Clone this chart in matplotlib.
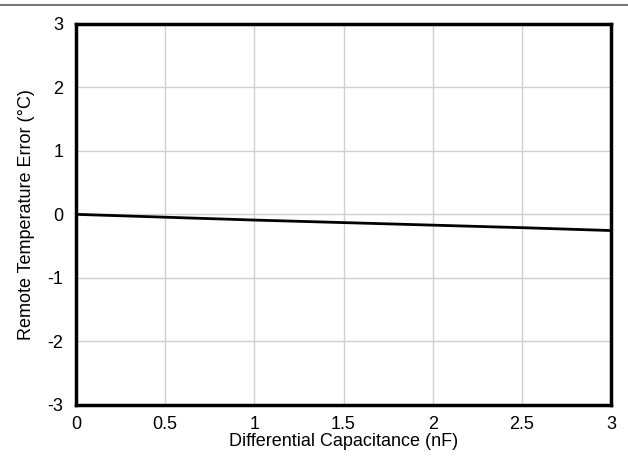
import matplotlib
matplotlib.use("Agg")
import matplotlib.pyplot as plt
from matplotlib.lines import Line2D

plt.rcParams['font.family'] = ['Liberation Sans', 'DejaVu Sans']

# data
cap_nf = [0, 0.5, 1.0, 1.5, 2.0, 2.5, 3.0]
temp_err = [0, -0.045, -0.09, -0.13, -0.17, -0.21, -0.255]

xticks = [0, 0.5, 1, 1.5, 2, 2.5, 3]
xticklabels = ["0", "0.5", "1", "1.5", "2", "2.5", "3"]
yticks = [-3, -2, -1, 0, 1, 2, 3]
yticklabels = ["-3", "-2", "-1", "0", "1", "2", "3"]

fig = plt.figure(figsize=(6.28, 4.58), dpi=100)
ax = fig.add_axes([0.121, 0.116, 0.852, 0.832])

# thin rule across the top of the figure
fig.add_artist(Line2D([0, 1], [0.989, 0.989], transform=fig.transFigure,
                      color="#777777", lw=1.5))

ax.plot(cap_nf, temp_err, color="black", lw=2)

ax.set_xlim(0, 3)
ax.set_ylim(-3, 3)
ax.set_xticks(xticks)
ax.set_xticklabels(xticklabels)
ax.set_yticks(yticks)
ax.set_yticklabels(yticklabels)
ax.grid(True, color="#d0d0d0", lw=1)
ax.set_axisbelow(True)
ax.tick_params(length=0, labelsize=13)
ax.tick_params(axis="x", pad=8)
ax.tick_params(axis="y", pad=9)

for s in ax.spines.values():
    s.set_linewidth(2.5)
    s.set_color("black")

ax.set_xlabel("Differential Capacitance (nF)", fontsize=13, labelpad=0)
ax.set_ylabel("Remote Temperature Error (°C)", fontsize=13, labelpad=9)

fig.savefig("out.png", dpi=100)
